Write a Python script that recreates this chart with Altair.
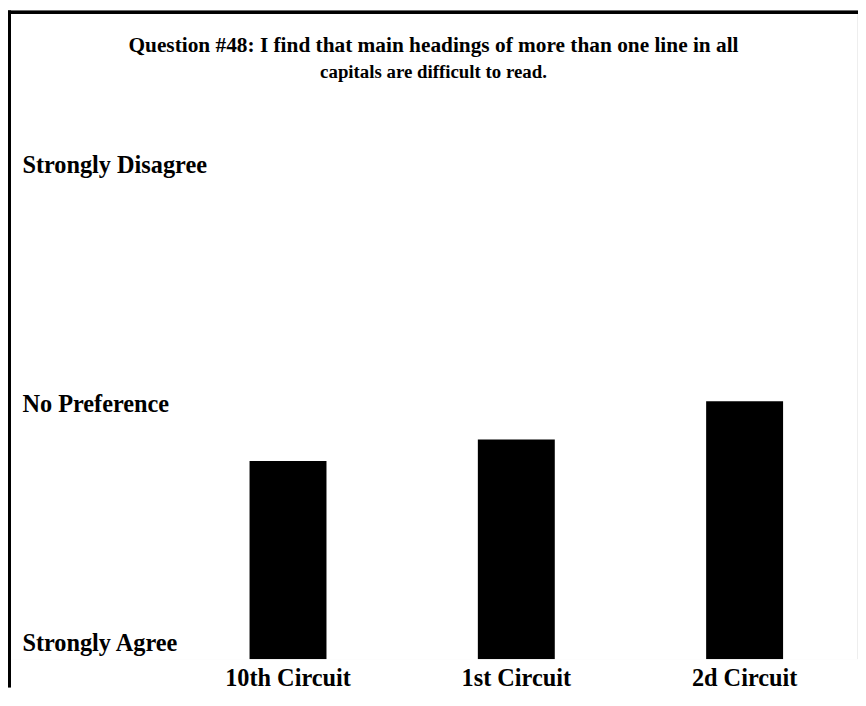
import altair as alt
import pandas as pd

# ---- data ----
circuits = ["10th Circuit", "1st Circuit", "2d Circuit"]
scores = [2.66, 2.84, 3.16]
scale_values = [1, 3, 5]
scale_labels = ["Strongly Agree", "No Preference", "Strongly Disagree"]
title_line1 = "Question #48: I find that main headings of more than one line in all"
title_line2 = "capitals are difficult to read."

df = pd.DataFrame({"circuit": circuits, "score": scores})

FONT = "Liberation Serif"
W, H = 855, 652.5

label_expr = " : ".join(
    f"datum.value == {v} ? '{t}'" for v, t in zip(scale_values, scale_labels)
) + " : ''"

bars = alt.Chart(df).mark_bar(color="black").encode(
    x=alt.X(
        "circuit:N",
        sort=circuits,
        scale=alt.Scale(range=[196, 826], paddingInner=0.663, paddingOuter=0.2),
        axis=alt.Axis(
            title=None, domain=False, ticks=False, tickSize=0, grid=False,
            labelAngle=0, labelFont=FONT, labelFontSize=24.5,
            labelFontWeight="bold", labelColor="black", labelPadding=7,
            labelLimit=400,
        ),
    ),
    y=alt.Y(
        "score:Q",
        scale=alt.Scale(domain=[1, 5], range=[652.5, 170.5], zero=False, nice=False),
        axis=alt.Axis(
            title=None, values=scale_values, labelExpr=label_expr,
            domain=False, ticks=False, tickSize=0, grid=False,
            labelAlign="left", labelBaseline="middle", labelPadding=-12.5,
            labelOffset=-16, labelOverlap=False, labelLimit=400,
            labelFont=FONT, labelFontSize=24.5, labelFontWeight="bold",
            labelColor="black",
        ),
    ),
    y2=alt.datum(1),
)

top_border = alt.Chart(df).mark_rule(color="black", strokeWidth=3).encode(
    x=alt.value(-1.5), x2=alt.value(W + 1), y=alt.value(0)
)
left_border = alt.Chart(df).mark_rule(color="black", strokeWidth=3).encode(
    x=alt.value(0), y=alt.value(-1.5), y2=alt.value(H + 28)
)
bottom_mask = alt.Chart(df).mark_rule(color="white", strokeWidth=2).encode(
    x=alt.value(1.5), x2=alt.value(W + 1), y=alt.value(H + 1)
)

chart = alt.layer(bars, bottom_mask, top_border, left_border).properties(
    width=W,
    height=H,
    autosize=alt.AutoSizeParams(type="none"),
    padding={"left": 1.5, "top": 1.5, "right": 0.5, "bottom": 28.5},
    title=alt.TitleParams(
        text=title_line1, subtitle=title_line2,
        font=FONT, fontSize=21.5, fontWeight="bold", color="black",
        subtitleFont=FONT, subtitleFontSize=19, subtitleFontWeight="bold",
        subtitleColor="black", subtitlePadding=7,
        anchor="middle", frame="group", baseline="top", offset=-73.5,
    ),
).configure_view(strokeWidth=0, stroke="white").configure_axis(
    domain=False, grid=False, ticks=False,
).configure(background="white")

chart.save("out.html", embed_options={"renderer": "svg", "actions": False})
